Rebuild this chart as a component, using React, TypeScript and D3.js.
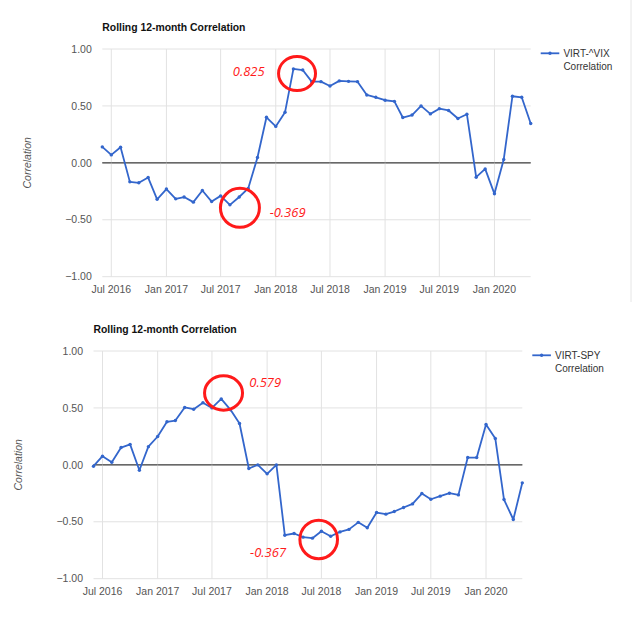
import * as d3 from "d3";
import React from "react";

// monthly observations, Jun 2016 - May 2020
const months = [
  "2016-06", "2016-07", "2016-08", "2016-09", "2016-10", "2016-11", "2016-12",
  "2017-01", "2017-02", "2017-03", "2017-04", "2017-05", "2017-06",
  "2017-07", "2017-08", "2017-09", "2017-10", "2017-11", "2017-12",
  "2018-01", "2018-02", "2018-03", "2018-04", "2018-05", "2018-06",
  "2018-07", "2018-08", "2018-09", "2018-10", "2018-11", "2018-12",
  "2019-01", "2019-02", "2019-03", "2019-04", "2019-05", "2019-06",
  "2019-07", "2019-08", "2019-09", "2019-10", "2019-11", "2019-12",
  "2020-01", "2020-02", "2020-03", "2020-04", "2020-05",
];

const vixCorrelation = [
  0.14, 0.07, 0.137, -0.167, -0.175, -0.129, -0.32, -0.23, -0.316, -0.3,
  -0.345, -0.243, -0.34, -0.29, -0.369, -0.3, -0.225, 0.047, 0.4, 0.32,
  0.445, 0.825, 0.815, 0.713, 0.713, 0.675, 0.72, 0.716, 0.713, 0.596,
  0.576, 0.55, 0.54, 0.398, 0.42, 0.5, 0.43, 0.476, 0.46, 0.39,
  0.427, -0.126, -0.053, -0.272, 0.03, 0.585, 0.576, 0.345,
];

const spyCorrelation = [
  -0.012, 0.076, 0.023, 0.152, 0.18, -0.047, 0.16, 0.249, 0.378, 0.389,
  0.504, 0.489, 0.545, 0.5, 0.579, 0.483, 0.363, -0.032, 0.0, -0.079,
  0.0, -0.618, -0.603, -0.635, -0.644, -0.583, -0.627, -0.589, -0.567, -0.505,
  -0.553, -0.419, -0.433, -0.41, -0.375, -0.343, -0.252, -0.302, -0.275, -0.249,
  -0.264, 0.064, 0.064, 0.354, 0.231, -0.305, -0.48, -0.158,
];

const xTickLabels = [
  "Jul 2016", "Jan 2017", "Jul 2017", "Jan 2018",
  "Jul 2018", "Jan 2019", "Jul 2019", "Jan 2020",
];
const yTicks = [-1, -0.5, 0, 0.5, 1];

const chartTitle = "Rolling 12-month Correlation";
const yAxisTitle = "Correlation";
const vixLegend = ["VIRT-^VIX", "Correlation"];
const spyLegend = ["VIRT-SPY", "Correlation"];

const vixNotes = [
  { month: "2018-03", label: "0.825" },
  { month: "2017-08", label: "-0.369" },
];
const spyNotes = [
  { month: "2017-08", label: "0.579" },
  { month: "2018-06", label: "-0.367" },
];

const parseMonth = d3.timeParse("%Y-%m");
const parseTick = d3.timeParse("%b %Y");
const FONT = "'Liberation Sans', Arial, sans-serif";
const BLUE = "#3366cc";
const RED = "#ff1a1a";

type Note = { month: string; label: string };
type NoteLayout = { cx: number; cy: number; rx: number; ry: number; tx: number; ty: number };

const Panel = ({ values, legend, notes, noteLayout, box }: {
  values: number[];
  legend: string[];
  notes: Note[];
  noteLayout: NoteLayout[];
  box: { left: number; right: number; top: number; bottom: number; yTitleX: number };
}) => {
  const dates = months.map((m) => parseMonth(m) as Date);
  const x = d3.scaleTime().domain(d3.extent(dates) as [Date, Date]).range([box.left, box.right]);
  const y = d3.scaleLinear().domain([-1, 1]).range([box.bottom, box.top]);

  const line = d3
    .line<number>()
    .x((_, i) => x(dates[i]))
    .y((d) => y(d));

  const ticks = xTickLabels.map((t) => ({ label: t, date: parseTick(t) as Date }));

  return (
    <g>
      <text x={box.left} y={box.top - 18.5} fontFamily={FONT} fontSize={10.4} fontWeight="bold" fill="#111">
        {chartTitle}
      </text>

      {/* gridlines */}
      {yTicks.map((t) => (
        <line key={"h" + t} x1={box.left} x2={box.right} y1={y(t)} y2={y(t)}
          stroke={t === 0 ? "#555" : "#e2e2e2"} strokeWidth={1} />
      ))}
      {ticks.map((t) => (
        <line key={"v" + t.label} x1={x(t.date)} x2={x(t.date)} y1={box.top} y2={box.bottom}
          stroke="#e2e2e2" strokeWidth={1} />
      ))}
      <line x1={box.left} x2={box.right} y1={y(0)} y2={y(0)} stroke="#555" strokeWidth={1} />

      {/* axis labels */}
      {yTicks.map((t) => (
        <text key={"yl" + t} x={box.left - 10.5} y={y(t)} dy="0.35em" textAnchor="end"
          fontFamily={FONT} fontSize={10.5} fill="#555">
          {d3.format(".2f")(t)}
        </text>
      ))}
      {ticks.map((t) => (
        <text key={"xl" + t.label} x={x(t.date)} y={box.bottom + 16.3} textAnchor="middle"
          fontFamily={FONT} fontSize={10.5} fill="#555">
          {t.label}
        </text>
      ))}
      <text transform={`translate(${box.yTitleX},${(box.top + box.bottom) / 2}) rotate(-90)`}
        textAnchor="middle" dy="0.35em" fontFamily={FONT} fontSize={10.5} fontStyle="italic" fill="#555">
        {yAxisTitle}
      </text>

      {/* series */}
      <path d={line(values) || ""} fill="none" stroke={BLUE} strokeWidth={1.8} strokeLinejoin="round" />
      {values.map((v, i) => (
        <circle key={i} cx={x(dates[i])} cy={y(v)} r={1.7} fill={BLUE} />
      ))}

      {/* legend */}
      <line x1={box.right + 10} x2={box.right + 28.6} y1={box.top + 4.3} y2={box.top + 4.3} stroke={BLUE} strokeWidth={1.8} />
      <circle cx={box.right + 19.3} cy={box.top + 4.3} r={1.7} fill={BLUE} />
      {legend.map((l, i) => (
        <text key={l} x={box.right + 32.7} y={box.top + 8.3 + i * 12.2} fontFamily={FONT} fontSize={10} fill="#333">
          {l}
        </text>
      ))}

      {/* annotations */}
      {notes.map((n, i) => {
        const px = x(parseMonth(n.month) as Date);
        const py = y(values[months.indexOf(n.month)]);
        const l = noteLayout[i];
        return (
          <g key={n.label}>
            <ellipse cx={px + l.cx} cy={py + l.cy} rx={l.rx} ry={l.ry} fill="none" stroke={RED} strokeWidth={3} />
            <text x={px + l.tx} y={py + l.ty} textAnchor="middle" fontFamily="'Open Sans', sans-serif"
              fontSize={13} fontStyle="italic" fill={RED}>
              {n.label}
            </text>
          </g>
        );
      })}
    </g>
  );
};

export default function App() {
  return (
    <svg width={640} height={625} style={{ position: "absolute", left: 0, top: 0, background: "#fff" }}>
      <rect width={640} height={625} fill="#fff" />
      <line x1={631} x2={631} y1={0} y2={302} stroke="#e6e6e6" strokeWidth={1} />
      <Panel
        values={vixCorrelation}
        legend={vixLegend}
        notes={vixNotes}
        noteLayout={[
          { cx: 3.6, cy: 4.6, rx: 18.5, ry: 17, tx: -44.7, ty: 7.5 },
          { cx: 10, cy: 3, rx: 19.5, ry: 19.5, tx: 57.7, ty: 12.5 },
        ]}
        box={{ left: 102.3, right: 530.7, top: 49, bottom: 276.7, yTitleX: 27 }}
      />
      <Panel
        values={spyCorrelation}
        legend={spyLegend}
        notes={spyNotes}
        noteLayout={[
          { cx: 2.3, cy: -6, rx: 19, ry: 17.2, tx: 44, ty: -12 },
          { cx: 6.3, cy: 1.3, rx: 18.8, ry: 19.3, tx: -44.3, ty: 18.5 },
        ]}
        box={{ left: 93.5, right: 522.3, top: 351, bottom: 578.7, yTitleX: 18 }}
      />
    </svg>
  );
}
